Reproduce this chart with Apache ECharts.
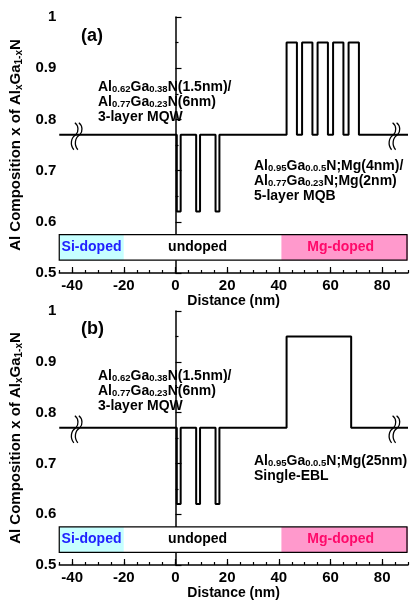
<!DOCTYPE html>
<html>
<head>
<meta charset="utf-8">
<script src="https://cdn.jsdelivr.net/npm/echarts@6/dist/echarts.min.js"></script>
<style>
  html, body { margin: 0; padding: 0; background: #fff; }
  #chart { width: 411px; height: 603px; }
</style>
</head>
<body>
<div id="chart"></div>
<script>
// Al composition profiles (step layers): layer boundaries in nm and composition of each layer
const edgesMQB = [-45, 0.5, 2, 8, 9.5, 15.5, 17, 43, 47, 49, 53, 55, 59, 61, 65, 67, 71, 90];
const compMQB  = [0.77, 0.62, 0.77, 0.62, 0.77, 0.62, 0.77, 0.95, 0.77, 0.95, 0.77, 0.95, 0.77, 0.95, 0.77, 0.95, 0.77];

const edgesEBL = [-45, 0.5, 2, 8, 9.5, 15.5, 17, 43, 68, 90];
const compEBL  = [0.77, 0.62, 0.77, 0.62, 0.77, 0.62, 0.77, 0.95, 0.77];

// Doping regions along the growth direction
const dopingNames = ['Si-doped', 'undoped', 'Mg-doped'];
const dopingFrom  = [-45, -20, 41];
const dopingTo    = [-20, 41, 90];
const bandLow = 0.525, bandHigh = 0.575;

// Axis break positions (nm) on the 0.77 baseline
const breakX = [-38, 85];
const baseline = 0.77;

const xTickLabels = [-40, -20, 0, 20, 40, 60, 80];
const yTickLabels = [0.5, 0.6, 0.7, 0.8, 0.9, 1.0];

const FONT = '"Liberation Sans", Arial, Helvetica, sans-serif';
const dopingFill = { 'Si-doped': '#c6ffff', 'undoped': '#ffffff', 'Mg-doped': '#ff99cc' };
const dopingText = { 'Si-doped': '#2020ff', 'undoped': '#000000', 'Mg-doped': '#ff0a6a' };
const dopingShift = { 'Si-doped': 0, 'undoped': -5, 'Mg-doped': -4 };

function stepPoints(edges, comp) {
  const pts = [];
  for (let i = 0; i < comp.length; i++) {
    pts.push([edges[i], comp[i]]);
    pts.push([edges[i + 1], comp[i]]);
  }
  return pts;
}

const chart = echarts.init(document.getElementById('chart'), null, { renderer: 'canvas' });

const grids = [
  { left: 55, right: 1, top: 17, height: 256 },
  { left: 55, right: 1, top: 311, height: 254 }
];

const xAxes = [], yAxes = [], series = [];

grids.forEach((g, gi) => {
  // main x axis: minor ticks every 5 nm, labels on the 20 nm grid
  xAxes.push({
    type: 'value', gridIndex: gi, min: -45, max: 90, interval: 5,
    axisLine: { show: true, lineStyle: { color: '#000', width: 1.5 } },
    axisTick: { show: true, inside: true, length: 3, lineStyle: { color: '#000', width: 1.2 } },
    splitLine: { show: false },
    axisLabel: {
      color: '#000', fontFamily: FONT, fontWeight: 'bold', fontSize: 15, margin: 5,
      formatter: v => (xTickLabels.indexOf(v) >= 0 ? String(v) : '')
    },
    name: 'Distance (nm)', nameLocation: 'middle', nameGap: 19,
    nameTextStyle: { color: '#000', fontFamily: FONT, fontWeight: 'bold', fontSize: 14 }
  });
  // overlay axis carrying the longer major ticks
  xAxes.push({
    type: 'value', gridIndex: gi, min: -45, max: 90, position: 'bottom',
    axisLine: { show: false }, splitLine: { show: false }, axisLabel: { show: false },
    axisTick: { show: true, inside: true, length: 6, customValues: xTickLabels, lineStyle: { color: '#000', width: 1.2 } }
  });
  yAxes.push({
    type: 'value', gridIndex: gi, min: 0.5, max: 1, interval: 0.1,
    axisLine: { show: true, lineStyle: { color: '#000', width: 1.5 } },
    axisTick: { show: true, inside: true, length: 6, lineStyle: { color: '#000', width: 1.2 } },
    minorTick: { show: true, splitNumber: 2, length: 3, lineStyle: { color: '#000', width: 1.2 } },
    splitLine: { show: false },
    axisLabel: {
      color: '#000', fontFamily: FONT, fontWeight: 'bold', fontSize: 15, margin: 3,
      formatter: v => String(Math.round(v * 10) / 10)
    },
    name: '{a|Al Composition x of Al}{b|x}{a|Ga}{b|1-x}{a|N}',
    nameLocation: 'middle', nameGap: 27, nameRotate: 90,
    nameTextStyle: {
      rich: {
        a: { color: '#000', fontFamily: FONT, fontWeight: 'bold', fontSize: 15, lineHeight: 18 },
        b: { color: '#000', fontFamily: FONT, fontWeight: 'bold', fontSize: 10, lineHeight: 10, verticalAlign: 'bottom' }
      }
    }
  });

  // doping band: coloured regions with their labels, then the outline
  series.push({
    type: 'custom', xAxisIndex: gi * 2, yAxisIndex: gi, silent: true, z: 2,
    data: dopingNames.map((n, i) => [dopingFrom[i], dopingTo[i], i]),
    renderItem: (params, api) => {
      const i = api.value(2);
      const name = dopingNames[i];
      const p0 = api.coord([api.value(0), bandHigh]);
      const p1 = api.coord([api.value(1), bandLow]);
      return {
        type: 'rect',
        shape: { x: p0[0], y: p0[1], width: p1[0] - p0[0], height: p1[1] - p0[1] },
        style: { fill: dopingFill[name] },
        textContent: {
          style: { text: name, fill: dopingText[name], fontFamily: FONT, fontWeight: 'bold', fontSize: 14 }
        },
        textConfig: { position: 'inside', offset: [dopingShift[name], 0] }
      };
    }
  });
  series.push({
    type: 'custom', xAxisIndex: gi * 2, yAxisIndex: gi, silent: true, z: 3,
    data: [[dopingFrom[0], dopingTo[dopingTo.length - 1]]],
    renderItem: (params, api) => {
      const p0 = api.coord([api.value(0), bandHigh]);
      const p1 = api.coord([api.value(1), bandLow]);
      return {
        type: 'rect',
        shape: { x: p0[0], y: p0[1], width: p1[0] - p0[0] - 1, height: p1[1] - p0[1] },
        style: { fill: null, stroke: '#000', lineWidth: 1.2 }
      };
    }
  });

  // composition profile
  const pts = gi === 0 ? stepPoints(edgesMQB, compMQB) : stepPoints(edgesEBL, compEBL);
  series.push({
    type: 'line', xAxisIndex: gi * 2, yAxisIndex: gi, data: pts,
    showSymbol: false, silent: true, z: 4, animation: false,
    lineStyle: { color: '#000', width: 2 }
  });

  // break marks across the baseline
  series.push({
    type: 'custom', xAxisIndex: gi * 2, yAxisIndex: gi, silent: true, z: 5,
    data: breakX.map(x => [x, baseline]),
    renderItem: (params, api) => {
      const c = api.coord([api.value(0), api.value(1)]);
      const children = [];
      [-1.5, 2.5].forEach(ox => {
        const x = c[0] + ox, y = c[1];
        children.push({
          type: 'bezierCurve',
          shape: { x1: x - 1, y1: y - 12, cpx1: x + 3, cpy1: y - 9, cpx2: x + 3, cpy2: y - 3, x2: x, y2: y },
          style: { stroke: '#000', lineWidth: 1.3, fill: null }
        });
        children.push({
          type: 'bezierCurve',
          shape: { x1: x, y1: y, cpx1: x - 5, cpy1: y + 3, cpx2: x - 6, cpy2: y + 10, x2: x - 2, y2: y + 15 },
          style: { stroke: '#000', lineWidth: 1.3, fill: null }
        });
      });
      return { type: 'group', children };
    }
  });
});

const richAnn = {
  m: { fontFamily: FONT, fontWeight: 'bold', fontSize: 14, fill: '#000', lineHeight: 15 },
  s: { fontFamily: FONT, fontWeight: 'bold', fontSize: 9.5, fill: '#000', lineHeight: 10, verticalAlign: 'bottom' }
};
function ann(x, y, text) {
  return { type: 'text', left: x, top: y, silent: true, z: 10,
    style: { text, rich: richAnn, fill: '#000', fontFamily: FONT, fontWeight: 'bold', fontSize: 14 } };
}
function panelTag(x, y, text) {
  return { type: 'text', left: x, top: y, silent: true, z: 10,
    style: { text, fill: '#000', fontFamily: FONT, fontWeight: 'bold', fontSize: 18 } };
}

const option = {
  animation: false,
  backgroundColor: '#fff',
  grid: grids,
  xAxis: xAxes,
  yAxis: yAxes,
  series,
  graphic: [
    panelTag(81, 27, '(a)'),
    ann(98, 80, '{m|Al}{s|0.62}{m|Ga}{s|0.38}{m|N(1.5nm)/}\n{m|Al}{s|0.77}{m|Ga}{s|0.23}{m|N(6nm)}\n{m|3-layer MQW}'),
    ann(254, 159, '{m|Al}{s|0.95}{m|Ga}{s|0.0.5}{m|N;Mg(4nm)/}\n{m|Al}{s|0.77}{m|Ga}{s|0.23}{m|N;Mg(2nm)}\n{m|5-layer MQB}'),
    panelTag(81, 320, '(b)'),
    ann(98, 369, '{m|Al}{s|0.62}{m|Ga}{s|0.38}{m|N(1.5nm)/}\n{m|Al}{s|0.77}{m|Ga}{s|0.23}{m|N(6nm)}\n{m|3-layer MQW}'),
    ann(254, 454, '{m|Al}{s|0.95}{m|Ga}{s|0.0.5}{m|N;Mg(25nm)}\n{m|Single-EBL}')
  ]
};

chart.setOption(option);
</script>
</body>
</html>
